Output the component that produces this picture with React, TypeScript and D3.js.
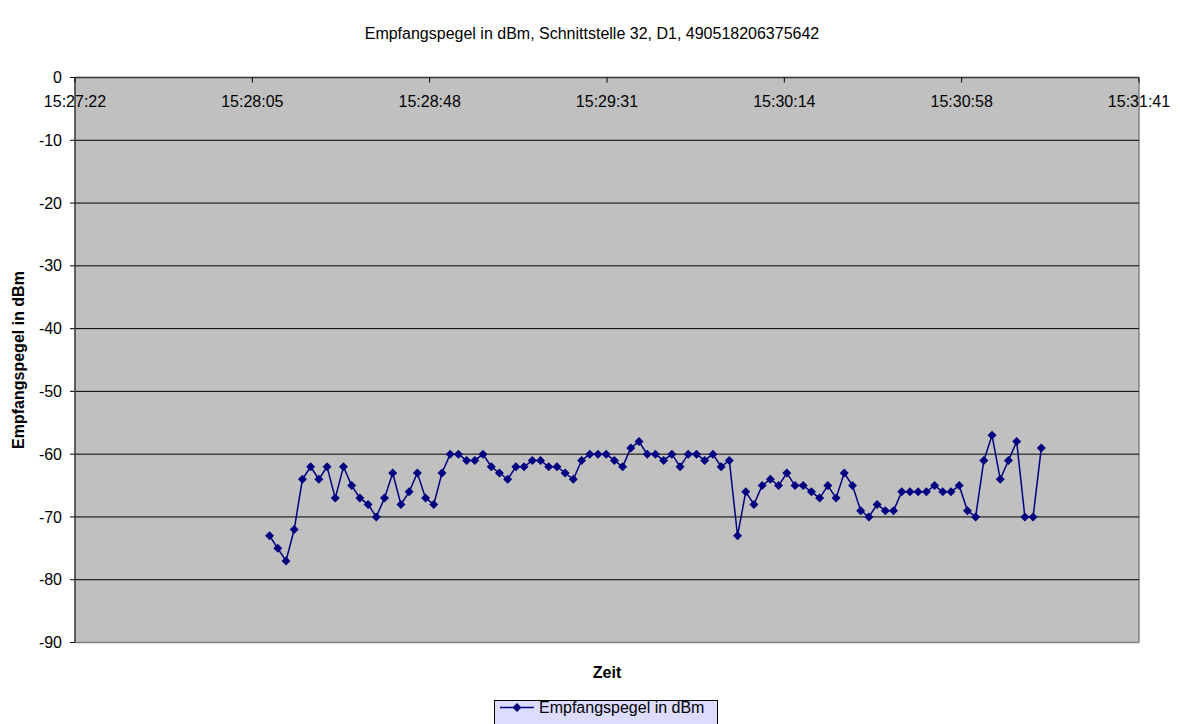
import * as d3 from "d3";
import * as React from "react";

// samples (hh:mm:ss) and received level in dBm
const times = [
  "15:28:09", "15:28:11", "15:28:13", "15:28:15", "15:28:17", "15:28:19", "15:28:21", "15:28:23",
  "15:28:25", "15:28:27", "15:28:29", "15:28:31", "15:28:33", "15:28:35", "15:28:37", "15:28:39",
  "15:28:41", "15:28:43", "15:28:45", "15:28:47", "15:28:49", "15:28:51", "15:28:53", "15:28:55",
  "15:28:57", "15:28:59", "15:29:01", "15:29:03", "15:29:05", "15:29:07", "15:29:09", "15:29:11",
  "15:29:13", "15:29:15", "15:29:17", "15:29:19", "15:29:21", "15:29:23", "15:29:25", "15:29:27",
  "15:29:29", "15:29:31", "15:29:33", "15:29:35", "15:29:37", "15:29:39", "15:29:41", "15:29:43",
  "15:29:45", "15:29:47", "15:29:49", "15:29:51", "15:29:53", "15:29:55", "15:29:57", "15:29:59",
  "15:30:01", "15:30:03", "15:30:05", "15:30:07", "15:30:09", "15:30:11", "15:30:13", "15:30:15",
  "15:30:17", "15:30:19", "15:30:21", "15:30:23", "15:30:25", "15:30:27", "15:30:29", "15:30:31",
  "15:30:33", "15:30:35", "15:30:37", "15:30:39", "15:30:41", "15:30:43", "15:30:45", "15:30:47",
  "15:30:49", "15:30:51", "15:30:53", "15:30:55", "15:30:57", "15:30:59", "15:31:01", "15:31:03",
  "15:31:05", "15:31:07", "15:31:09", "15:31:11", "15:31:13", "15:31:15", "15:31:17",
];

const pegel = [
  -73, -75, -77, -72, -64, -62, -64, -62, -67, -62, -65, -67, -68, -70, -67, -63,
  -68, -66, -63, -67, -68, -63, -60, -60, -61, -61, -60, -62, -63, -64, -62, -62,
  -61, -61, -62, -62, -63, -64, -61, -60, -60, -60, -61, -62, -59, -58, -60, -60,
  -61, -60, -62, -60, -60, -61, -60, -62, -61, -73, -66, -68, -65, -64, -65, -63,
  -65, -65, -66, -67, -65, -67, -63, -65, -69, -70, -68, -69, -69, -66, -66, -66,
  -66, -65, -66, -66, -65, -69, -70, -61, -57, -64, -61, -58, -70, -70, -59,
];

// axis: 0.644 .. 0.647 days, major unit 0.0005 day
const xTickSeconds = [55641.6, 55684.8, 55728, 55771.2, 55814.4, 55857.6, 55900.8];
const xTickLabels = ["15:27:22", "15:28:05", "15:28:48", "15:29:31", "15:30:14", "15:30:58", "15:31:41"];
const yTicks = [0, -10, -20, -30, -40, -50, -60, -70, -80, -90];

const title = "Empfangspegel in dBm, Schnittstelle 32, D1, 490518206375642";
const seriesName = "Empfangspegel in dBm";

const toSeconds = (t: string) => {
  const [h, m, s] = t.split(":").map(Number);
  return h * 3600 + m * 60 + s;
};

const diamond = {
  draw(ctx: d3.Path, size: number) {
    const r = Math.sqrt(size) / 2;
    ctx.moveTo(0, -r);
    ctx.lineTo(r, 0);
    ctx.lineTo(0, r);
    ctx.lineTo(-r, 0);
    ctx.closePath();
  },
};

export default function App() {
  const width = 1180;
  const height = 724;
  const left = 75;
  const right = 1139;
  const top = 77.5;
  const bottom = 642.5;
  const font = "'Liberation Sans', Arial, sans-serif";
  const fs = 16;
  const navy = "#000080";

  const data = times.map((t, i) => ({ x: toSeconds(t), y: pegel[i] }));

  const x = d3.scaleLinear([xTickSeconds[0], xTickSeconds[xTickSeconds.length - 1]], [left, right]);
  const y = d3.scaleLinear([0, -90], [top, bottom]);

  const line = d3
    .line<{ x: number; y: number }>()
    .x((d) => x(d.x))
    .y((d) => y(d.y));

  const marker = d3.symbol(diamond as any, 81)();

  return (
    <svg
      width={width}
      height={height}
      viewBox={`0 0 ${width} ${height}`}
      style={{ position: "absolute", left: 0, top: 0, background: "#fff" }}
      fontFamily={font}
    >
      <text x={592} y={39} textAnchor="middle" fontSize={fs}>
        {title}
      </text>

      <rect x={left} y={top} width={right - left} height={bottom - top} fill="#c0c0c0" />
      <line x1={right} x2={right} y1={top} y2={bottom} stroke="#808080" strokeWidth={1.5} />
      <line x1={left} x2={right} y1={bottom} y2={bottom} stroke="#808080" strokeWidth={1.5} />

      {yTicks.map((v) => (
        <g key={v}>
          {v !== 0 && v !== -90 && (
            <line x1={left} x2={right} y1={y(v)} y2={y(v)} stroke="#000" strokeWidth={1} />
          )}
          <line x1={left - 5} x2={left} y1={y(v)} y2={y(v)} stroke="#000" />
          <text x={62} y={y(v)} dy="0.35em" textAnchor="end" fontSize={fs}>
            {v}
          </text>
        </g>
      ))}

      <line x1={left} x2={left} y1={top} y2={bottom} stroke="#333" strokeWidth={1.5} />
      <line x1={left} x2={right} y1={top} y2={top} stroke="#333" strokeWidth={1.5} />

      {xTickSeconds.map((s, i) => (
        <g key={s}>
          <line x1={x(s)} x2={x(s)} y1={top} y2={top + 5} stroke="#000" />
          <text x={x(s)} y={107} textAnchor="middle" fontSize={fs}>
            {xTickLabels[i]}
          </text>
        </g>
      ))}

      <path d={line(data) ?? ""} fill="none" stroke={navy} strokeWidth={1.5} />
      {data.map((d, i) => (
        <path key={i} d={marker} transform={`translate(${x(d.x)},${y(d.y)})`} fill={navy} />
      ))}

      <text
        transform={`translate(24,${(top + bottom) / 2}) rotate(-90)`}
        textAnchor="middle"
        fontSize={fs}
        fontWeight="bold"
      >
        Empfangspegel in dBm
      </text>
      <text x={(left + right) / 2} y={678} textAnchor="middle" fontSize={fs} fontWeight="bold">
        Zeit
      </text>

      <rect x={494.5} y={700.5} width={223} height={26} fill="#dcdcff" stroke="#000" />
      <line x1={500} x2={534} y1={707.5} y2={707.5} stroke={navy} strokeWidth={1.5} />
      <path d={marker} transform="translate(517,707.5)" fill={navy} />
      <text x={539} y={713} fontSize={fs}>
        {seriesName}
      </text>
    </svg>
  );
}
